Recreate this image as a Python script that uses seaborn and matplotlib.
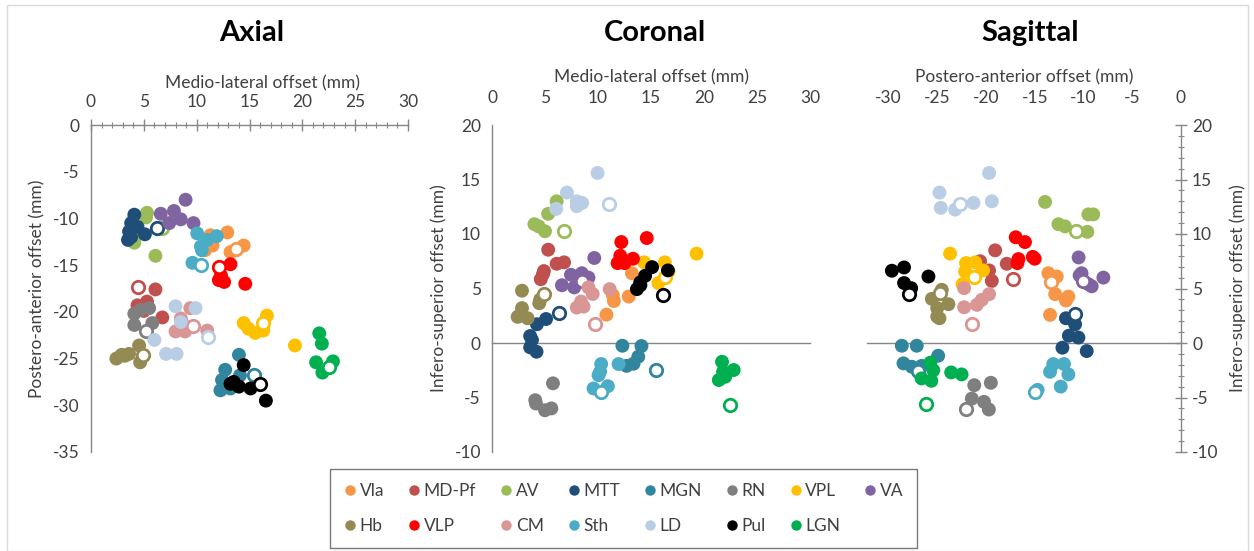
import matplotlib
matplotlib.use("Agg")
import matplotlib.pyplot as plt
import seaborn as sns
import pandas as pd
from matplotlib.lines import Line2D
from matplotlib.ticker import MultipleLocator
from matplotlib.patches import Rectangle

# ---------------- data ----------------
GROUPS = ["Vla", "MD-Pf", "AV", "MTT", "MGN", "RN", "VPL", "VA",
          "Hb", "VLP", "CM", "Sth", "LD", "Pul", "LGN"]
COLORS = ["#F79646", "#C0504D", "#9BBB59", "#1F4E79", "#31859C", "#7F7F7F", "#FFC000", "#8064A2",
          "#948A54", "#FF0000", "#D99694", "#4BACC6", "#B9CDE5", "#000000", "#00B050"]

# Axial view: (medio-lateral, postero-anterior)
axial_filled = {
    "Vla": [(11.3, -11.8), (12.9, -11.5), (14.45, -12.9), (13.2, -13.6), (11.5, -12.9), (10.8, -13.4)],
    "MD-Pf": [(6.1, -17.6), (6.75, -20.6), (5.3, -18.9), (4.7, -19.5), (5.0, -19.9), (4.4, -19.3)],
    "AV": [(5.3, -9.4), (5.2, -9.9), (4.1, -12.6), (6.1, -14.0), (4.1, -12.0)],
    "MTT": [(4.1, -9.6), (3.8, -10.5), (3.6, -11.4), (3.5, -12.3), (4.4, -10.9), (5.1, -11.7), (3.8, -12.0)],
    "MGN": [(14.0, -24.6), (12.7, -26.2), (12.4, -27.3), (12.25, -28.4), (13.2, -28.2), (14.1, -26.8)],
    "RN": [(4.1, -20.2), (4.7, -19.8), (5.5, -19.6), (4.1, -21.4), (5.8, -21.2)],
    "VPL": [(14.45, -21.2), (14.9, -21.8), (15.55, -22.25), (16.3, -22.0), (16.65, -20.4), (19.3, -23.6)],
    "VA": [(8.95, -8.0), (6.6, -9.5), (7.85, -9.2), (8.5, -10.1), (7.4, -10.5), (9.7, -10.5)],
    "Hb": [(2.4, -25.0), (2.9, -24.6), (3.6, -24.5), (4.55, -23.6), (4.65, -25.4), (3.2, -24.7)],
    "VLP": [(13.2, -14.9), (14.6, -17.0), (12.1, -16.6), (12.6, -16.8), (12.3, -16.1)],
    "CM": [(8.5, -20.7), (8.0, -22.1), (8.9, -22.1), (9.4, -19.6), (11.0, -22.0), (8.6, -21.1)],
    "Sth": [(10.05, -11.6), (11.0, -12.3), (10.4, -13.0), (11.9, -11.9), (10.5, -13.4), (9.6, -14.75)],
    "LD": [(8.0, -19.4), (9.9, -19.6), (8.5, -21.1), (6.0, -23.0), (7.1, -24.5), (8.1, -24.5)],
    "Pul": [(14.45, -25.7), (13.5, -27.5), (14.0, -28.0), (15.1, -28.2), (16.55, -29.5), (13.2, -27.7)],
    "LGN": [(21.6, -22.3), (21.85, -23.4), (21.3, -25.4), (21.9, -26.5), (22.9, -25.3)],
}
axial_open = {
    "Vla": (13.7, -13.3), "MD-Pf": (4.46, -17.3), "AV": (6.7, -11.0), "MTT": (6.28, -11.0),
    "MGN": (15.45, -26.8), "RN": (5.2, -22.0), "VPL": (16.3, -21.2), "Hb": (4.9, -24.6),
    "VLP": (12.1, -15.2), "CM": (9.7, -21.5), "Sth": (10.4, -15.0), "LD": (11.05, -22.7),
    "Pul": (16.0, -27.7), "LGN": (22.55, -25.9),
}

# Coronal view: (medio-lateral, infero-superior)
coronal_filled = {
    "Vla": [(13.2, 6.4), (11.4, 4.4), (11.5, 3.85), (12.9, 4.26), (10.8, 2.6)],
    "MD-Pf": [(5.3, 8.56), (6.1, 7.27), (6.8, 7.4), (4.9, 6.6), (4.6, 5.85), (4.8, 6.3)],
    "AV": [(6.1, 13.0), (5.3, 11.85), (4.0, 10.9), (4.4, 10.7), (5.0, 10.25)],
    "MTT": [(3.6, 0.64), (3.77, 0.28), (3.6, -0.4), (4.2, -0.8), (4.24, 1.72), (5.1, 2.2)],
    "MGN": [(12.3, -0.25), (14.1, -0.28), (13.8, -1.26), (13.35, -1.9), (12.7, -2.1)],
    "RN": [(5.75, -3.7), (4.08, -5.25), (4.15, -5.55), (5.0, -6.17), (5.6, -6.0)],
    "VPL": [(19.3, 8.2), (14.36, 7.4), (16.3, 7.4), (15.7, 5.5), (16.65, 6.56)],
    "VA": [(9.65, 7.8), (7.45, 6.26), (8.48, 6.4), (9.1, 6.0), (6.6, 5.3), (7.76, 5.1)],
    "Hb": [(2.83, 4.8), (2.83, 3.2), (2.42, 2.4), (3.36, 2.27), (4.46, 3.65), (4.55, 4.0)],
    "VLP": [(12.2, 9.26), (14.6, 9.63), (12.1, 8.0), (13.3, 7.73), (11.85, 7.33), (12.5, 7.33)],
    "CM": [(9.1, 5.1), (9.5, 4.5), (8.0, 3.25), (8.64, 3.34), (8.4, 3.8), (11.1, 4.94)],
    "Sth": [(10.3, -1.93), (10.2, -2.64), (10.05, -2.95), (9.58, -4.17), (10.93, -3.96), (11.94, -1.93)],
    "LD": [(9.96, 15.6), (7.07, 13.8), (8.0, 13.0), (8.5, 12.85), (8.0, 12.55), (6.06, 12.3)],
    "Pul": [(15.1, 6.96), (14.45, 6.17), (13.98, 5.55), (13.67, 4.94), (16.6, 6.66), (14.0, 5.3)],
    "LGN": [(21.7, -1.72), (22.8, -2.48), (21.8, -2.64), (21.4, -3.4), (22.0, -3.1)],
}
coronal_open = {
    "AV": (6.75, 10.3), "MTT": (6.28, 2.73), "MGN": (15.45, -2.48), "VPL": (16.3, 6.1),
    "VA": (8.5, 5.7), "Hb": (4.87, 4.5), "CM": (9.74, 1.7), "Sth": (10.27, -4.48),
    "LD": (11.06, 12.76), "Pul": (16.1, 4.4), "LGN": (22.5, -5.7),
}

# Sagittal view: (postero-anterior, infero-superior)
sagittal_filled = {
    "Vla": [(-13.6, 6.4), (-12.74, 6.1), (-12.9, 4.48), (-11.55, 4.26), (-11.8, 3.9), (-13.43, 2.58)],
    "MD-Pf": [(-19.06, 8.5), (-20.6, 7.5), (-17.87, 7.27), (-19.68, 6.66), (-19.4, 5.7)],
    "AV": [(-13.94, 12.94), (-12.57, 10.9), (-11.9, 10.7), (-9.6, 10.2), (-9.5, 11.8), (-9.0, 11.8)],
    "MTT": [(-11.8, 2.27), (-10.86, 1.72), (-11.5, 0.67), (-10.52, 0.5), (-12.16, -0.43), (-9.67, -0.74)],
    "MGN": [(-28.63, -0.25), (-27.1, -0.25), (-28.46, -1.87), (-27.6, -2.18), (-26.6, -2.1), (-24.9, -1.17)],
    "RN": [(-21.2, -3.87), (-19.5, -3.65), (-21.45, -5.1), (-20.2, -5.4), (-19.7, -6.1)],
    "VPL": [(-23.68, 8.2), (-22.04, 7.33), (-21.1, 7.4), (-22.14, 6.56), (-20.3, 6.66), (-22.4, 5.4)],
    "VA": [(-10.5, 7.85), (-10.2, 6.4), (-7.96, 6.0), (-9.5, 5.4), (-9.16, 5.2), (-10.4, 6.2)],
    "Hb": [(-24.53, 4.88), (-25.55, 4.05), (-23.85, 3.56), (-25.0, 3.2), (-25.0, 2.42), (-24.77, 2.27)],
    "VLP": [(-16.95, 9.7), (-16.0, 9.26), (-16.67, 7.7), (-16.77, 7.33), (-15.0, 7.73), (-15.2, 7.9)],
    "CM": [(-22.24, 5.03), (-22.24, 3.28), (-20.94, 3.5), (-20.43, 3.96), (-19.68, 4.48)],
    "Sth": [(-13.1, -1.93), (-12.0, -1.93), (-13.43, -2.64), (-11.55, -2.88), (-12.33, -4.0), (-14.7, -4.3)],
    "LD": [(-19.68, 15.6), (-24.77, 13.8), (-19.4, 13.0), (-21.28, 12.85), (-24.63, 12.4), (-23.16, 12.24)],
    "Pul": [(-29.65, 6.63), (-28.4, 6.93), (-25.9, 6.1), (-28.4, 5.5), (-27.67, 5.03)],
    "LGN": [(-25.7, -1.8), (-25.4, -2.5), (-26.6, -3.25), (-25.6, -3.47), (-23.57, -2.7), (-22.5, -2.88)],
}
sagittal_open = {
    "Vla": (-13.36, 5.64), "MD-Pf": (-17.2, 5.9), "AV": (-10.76, 10.25), "MTT": (-10.86, 2.67),
    "MGN": (-27.0, -2.55), "RN": (-22.0, -6.1), "VPL": (-21.2, 6.1), "VA": (-10.0, 5.7),
    "Hb": (-24.7, 4.57), "CM": (-21.45, 1.72), "Sth": (-15.0, -4.48), "LD": (-22.65, 12.76),
    "Pul": (-27.9, 4.48), "LGN": (-26.1, -5.64),
}

TITLES = ["Axial", "Coronal", "Sagittal"]
XLABELS = ["Medio-lateral offset (mm)", "Medio-lateral offset (mm)", "Postero-anterior offset (mm)"]
YLABELS = ["Postero-anterior offset (mm)", "Infero-superior offset (mm)", "Infero-superior offset (mm)"]

# ---------------- style ----------------
sns.set_theme(style="white")
plt.rcParams["font.family"] = ["Lato", "DejaVu Sans"]
plt.rcParams["axes.unicode_minus"] = False
SPINE = "#868686"
TXT = "#404040"
FS = 12.5
PAL = dict(zip(GROUPS, COLORS))

W, H = 1254, 551
fig = plt.figure(figsize=(W / 100, H / 100), dpi=100)
fig.patch.set_facecolor("white")
fig.add_artist(Rectangle((7 / W, 0), 1241 / W, 546 / H, transform=fig.transFigure,
                         fill=False, edgecolor="#d9d9d9", linewidth=1))


def px(x0, y0, x1, y1):
    return [x0 / W, 1 - y1 / H, (x1 - x0) / W, (y1 - y0) / H]


ax1 = fig.add_axes(px(91, 125, 408, 452))
ax2 = fig.add_axes(px(492, 125, 810, 452))
ax3 = fig.add_axes(px(867, 125, 1181, 452))


def draw(ax, filled, hollow):
    for g in GROUPS:
        pts = filled.get(g, [])
        if pts:
            df = pd.DataFrame(pts, columns=["x", "y"])
            df["g"] = g
            sns.scatterplot(data=df, x="x", y="y", hue="g", palette=PAL, s=100,
                            edgecolor="none", linewidth=0, legend=False, ax=ax, zorder=3)
        if g in hollow:
            df = pd.DataFrame([hollow[g]], columns=["x", "y"])
            df["g"] = g
            sns.scatterplot(data=df, x="x", y="y", hue="g", palette=PAL, s=80,
                            legend=False, ax=ax, zorder=3)
            coll = ax.collections[-1]
            coll.set_edgecolors([PAL[g]])
            coll.set_facecolors(["white"])
            coll.set_linewidths(2.0)


def style_common(ax):
    ax.set_facecolor("none")
    for sp in ax.spines.values():
        sp.set_color(SPINE)
        sp.set_linewidth(1.0)
    ax.xaxis.set_major_locator(MultipleLocator(5))
    ax.xaxis.set_minor_locator(MultipleLocator(1))
    ax.yaxis.set_major_locator(MultipleLocator(5))
    ax.yaxis.set_minor_locator(MultipleLocator(1))
    ax.tick_params(which="major", direction="inout", length=9, width=1, color=SPINE,
                   labelsize=FS, labelcolor=TXT)
    ax.tick_params(which="minor", direction="inout", length=5, width=0.8, color=SPINE)


# ----- Axial -----
draw(ax1, axial_filled, axial_open)
ax1.set_xlim(0, 30)
ax1.set_ylim(-35, 0)
style_common(ax1)
ax1.spines["right"].set_visible(False)
ax1.spines["bottom"].set_visible(False)
ax1.xaxis.tick_top()
ax1.xaxis.set_label_position("top")
ax1.tick_params(axis="x", which="both", bottom=False, top=True, pad=6)
ax1.tick_params(axis="y", which="both", pad=4)
ax1.set_xlabel(XLABELS[0], fontsize=FS, color=TXT)
ax1.xaxis.set_label_coords(0.54, 1.112)
ax1.set_ylabel(YLABELS[0], fontsize=FS, color=TXT, labelpad=5)

# ----- Coronal -----
draw(ax2, coronal_filled, coronal_open)
ax2.set_xlim(0, 30)
ax2.set_ylim(-10, 20)
style_common(ax2)
ax2.spines["top"].set_visible(False)
ax2.spines["right"].set_visible(False)
ax2.spines["bottom"].set_position(("data", 0))
ax2.tick_params(axis="x", which="both", labelbottom=False)
ax2.set_xlabel("")
ax2.set_ylabel(YLABELS[1], fontsize=FS, color=TXT, labelpad=5)
sec2 = ax2.secondary_xaxis("top")
sec2.set_xticks(range(0, 31, 5))
sec2.tick_params(length=0, labelsize=FS, labelcolor=TXT, pad=14)
sec2.spines["top"].set_visible(False)
sec2.set_xlabel(XLABELS[1], fontsize=FS, color=TXT, labelpad=5)

# ----- Sagittal -----
draw(ax3, sagittal_filled, sagittal_open)
ax3.set_xlim(-32.2, 0)
ax3.set_ylim(-10, 20)
style_common(ax3)
ax3.spines["top"].set_visible(False)
ax3.spines["left"].set_visible(False)
ax3.spines["bottom"].set_position(("data", 0))
ax3.yaxis.tick_right()
ax3.yaxis.set_label_position("right")
ax3.tick_params(axis="x", which="both", labelbottom=False)
ax3.set_xlabel("")
ax3.set_ylabel(YLABELS[2], fontsize=FS, color=TXT, labelpad=8)
sec3 = ax3.secondary_xaxis("top")
sec3.set_xticks(range(-30, 1, 5))
sec3.tick_params(length=0, labelsize=FS, labelcolor=TXT, pad=14)
sec3.spines["top"].set_visible(False)
sec3.set_xlabel(XLABELS[2], fontsize=FS, color=TXT, labelpad=5)

# titles
for title, cx in zip(TITLES, [252, 655, 1030]):
    fig.text(cx / W, 1 - 33 / H, title, ha="center", va="center",
             fontsize=21, fontweight="bold", color="black")

# legend: row-major look with column-major filling
row1 = GROUPS[:8]
row2 = GROUPS[8:]
order = []
for i in range(8):
    order.append(row1[i])
    if i < len(row2):
        order.append(row2[i])
handles = [Line2D([], [], marker="o", linestyle="", markersize=7.5,
                  markerfacecolor=PAL[g], markeredgecolor="none") for g in order]
leg = fig.legend(handles, order, ncol=8, loc="upper left",
                 bbox_to_anchor=(330 / W, 1 - 469 / H), frameon=True, fancybox=False,
                 fontsize=FS, handlelength=0.7, handletextpad=0.2, columnspacing=1.38,
                 labelspacing=1.1, borderpad=0.8, borderaxespad=0)
leg.get_frame().set_edgecolor("#595959")
leg.get_frame().set_linewidth(1.0)
for t in leg.get_texts():
    t.set_color(TXT)

fig.savefig("out.png", dpi=100)
